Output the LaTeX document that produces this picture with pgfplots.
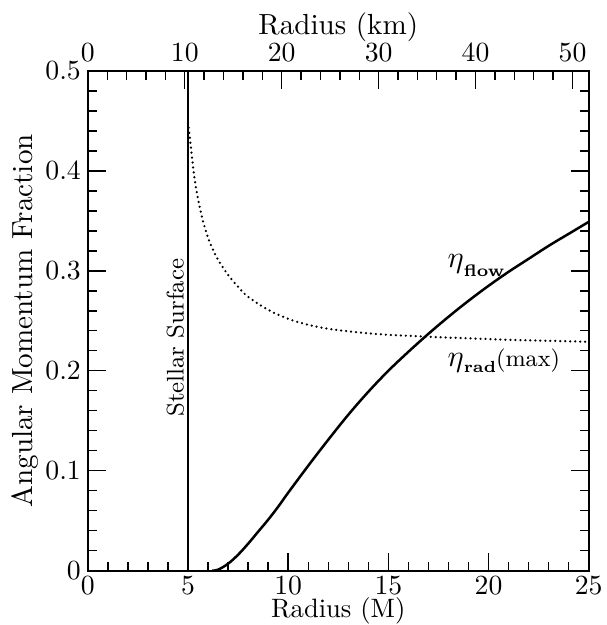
\documentclass[border=0pt]{standalone}
\usepackage{pgfplots}
\pgfplotsset{compat=1.18}
\begin{document}
\begin{tikzpicture}
\pgfplotsset{
  every axis/.append style={
    scale only axis, width=180.8pt, height=180.4pt,
    xmin=0, xmax=25, ymin=0, ymax=0.5,
    tick align=inside,
    major tick length=6.4pt, minor tick length=3.3pt,
    every tick/.style={line width=0.5pt, black},
    axis line style={line width=0.7pt},
    tick label style={font=\fontsize{9.8}{11}\selectfont},
    label style={font=\fontsize{10.5}{12}\selectfont},
  }
}
% Bottom / left axes: radius in units of M
\begin{axis}[
  name=main,
  xtick={0,5,10,15,20,25}, minor x tick num=4,
  ytick={0,0.1,0.2,0.3,0.4,0.5}, minor y tick num=4,
  xtick pos=bottom, ytick pos=both, yticklabel pos=left,
  yticklabel style={/pgf/number format/fixed, xshift=1pt},
  xticklabel style={inner sep=0.5pt, yshift=-1.5pt},
  xlabel={Radius (M)}, ylabel={Angular Momentum Fraction},
  xlabel style={at={(axis description cs:0.5,-0.0945)}, anchor=base,
    inner sep=0.5pt, font=\fontsize{9.6}{11}\selectfont},
  ylabel style={at={(axis description cs:-0.11,0.5)}, anchor=base, rotate=0},
]
% stellar surface at R = 5M
\addplot[black, line width=0.45pt] coordinates {(5,0) (5,0.5)};
% eta_rad(max)
\addplot[black, line width=0.9pt, line cap=round, dash pattern=on 0pt off 1.8pt, smooth, tension=0.6] coordinates {
(5.0,0.448) (5.1,0.432) (5.2,0.413) (5.35,0.389) (5.55,0.367) (5.8,0.346)
(6.1,0.328) (6.5,0.311) (7,0.296) (7.5,0.284) (8,0.274) (9,0.261)
(10,0.252) (11,0.246) (12,0.242) (13,0.2395) (14,0.2375) (15,0.236)
(17,0.234) (19,0.2325) (21,0.231) (23,0.230) (25,0.229)
};
% eta_flow
\addplot[black, line width=0.9pt, smooth, tension=0.6] coordinates {
(6.2,0) (6.5,0.001) (7,0.007) (7.5,0.016) (8,0.027) (8.5,0.039) (9,0.051)
(9.5,0.064) (10,0.078) (11,0.105) (12,0.131) (13,0.156) (14,0.179)
(15,0.200) (16,0.219) (17,0.237) (18,0.254) (19,0.270) (20,0.285)
(21,0.299) (22,0.312) (23,0.325) (24,0.337) (25,0.349)
};
\node[rotate=90, anchor=south, inner sep=1.2pt, font=\fontsize{8.7}{10}\selectfont]
  at (axis cs:5,0.233) {Stellar Surface};
\node[anchor=base west, inner sep=0pt]
  at (axis cs:17.93,0.303)
  {\fontsize{11}{13}\selectfont$\eta$\raisebox{-3pt}{\fontsize{6}{7}\selectfont\bfseries flow}};
\node[anchor=base west, inner sep=0pt]
  at (axis cs:17.93,0.204)
  {\fontsize{11}{13}\selectfont$\eta$\raisebox{-2pt}{\fontsize{5.8}{7}\selectfont\bfseries rad}{\fontsize{8.5}{10}\selectfont(max)}};
\end{axis}
% Top axis: radius in km (M = 2.067 km)
\begin{axis}[
  xmin=0, xmax=51.675,
  xtick={0,10,20,30,40,50}, minor x tick num=4,
  xtick pos=top, xticklabel pos=top,
  ytick=\empty,
  xlabel={Radius (km)},
  xlabel style={at={(axis description cs:0.5,1.072)}, anchor=base},
]
\end{axis}
\pgfresetboundingbox
\path[use as bounding box] ([shift={(-31.7pt,-19.6pt)}]main.south west)
  rectangle ([shift={(6.5pt,25.6pt)}]main.north east);
\end{tikzpicture}
\end{document}
